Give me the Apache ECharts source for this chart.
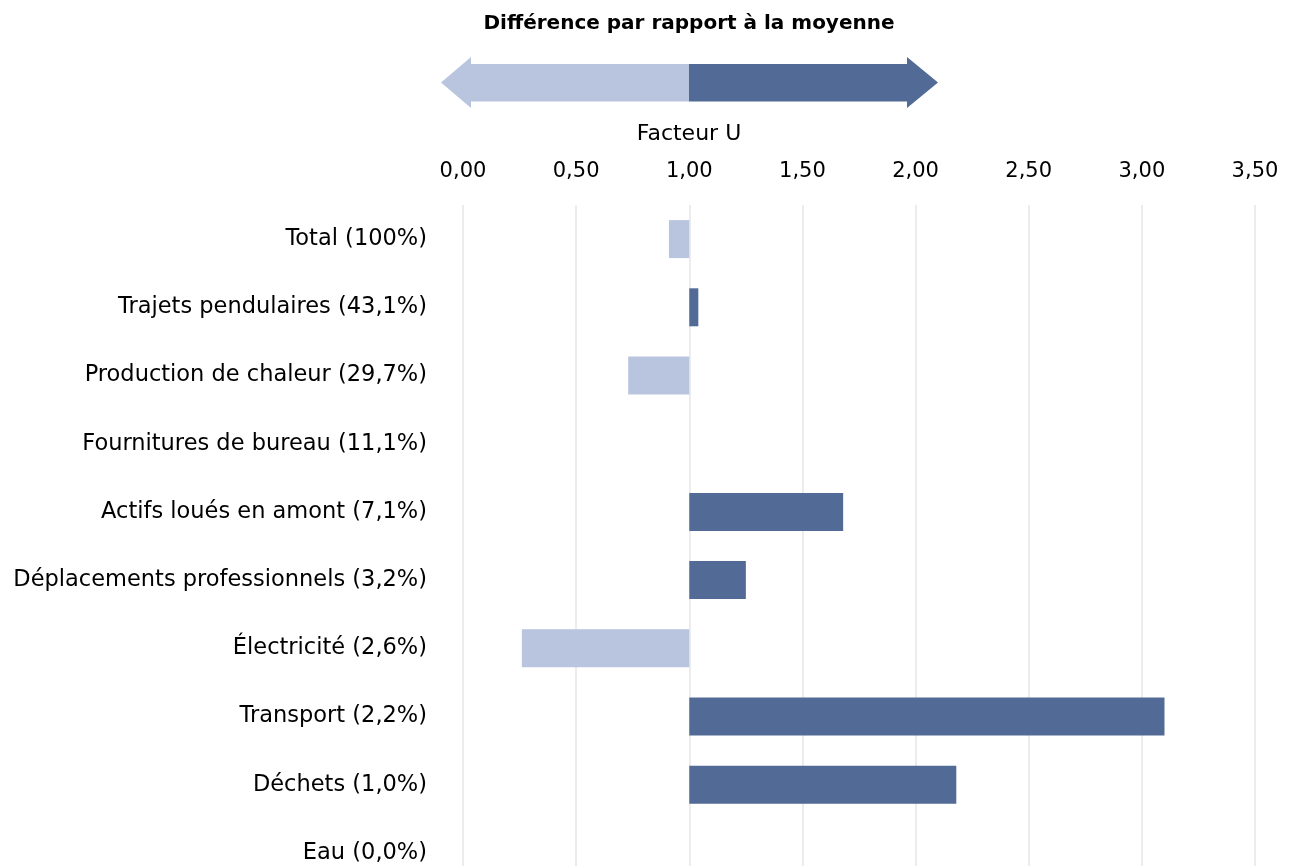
<!DOCTYPE html>
<html><head><meta charset="utf-8">
<script src="https://cdn.jsdelivr.net/npm/echarts@6/dist/echarts.min.js"></script>
<style>html,body{margin:0;padding:0;background:#fff;overflow:hidden}#c{width:1293px;height:887px}</style>
</head><body><div id="c"></div>
<script>
const categories = ["Total (100%)","Trajets pendulaires (43,1%)","Production de chaleur (29,7%)","Fournitures de bureau (11,1%)","Actifs loués en amont (7,1%)","Déplacements professionnels (3,2%)","Électricité (2,6%)","Transport (2,2%)","Déchets (1,0%)","Eau (0,0%)"];
const uFactor = [0.91, 1.04, 0.73, 1.00, 1.68, 1.25, 0.26, 3.10, 2.18, null];
const baseline = 1.0;
const xTicks = {min: 0, max: 3.5, interval: 0.5};
const title = "Différence par rapport à la moyenne";
const axisName = "Facteur U";

const LIGHT = '#b9c5de', DARK = '#516a96';
const FONT = 'DejaVu Sans';

const baseData = uFactor.map(v => v == null ? null : Math.min(v, baseline));
const diffData = uFactor.map(v => v == null ? null : {value: Math.abs(v - baseline), itemStyle: {color: v < baseline ? LIGHT : DARK}});

const chart = echarts.init(document.getElementById('c'), null, {renderer: 'canvas'});
chart.setOption({
  animation: false,
  textStyle: {fontFamily: FONT},
  grid: {left: 463, right: 38, top: 205, bottom: 0, containLabel: false},
  xAxis: {
    type: 'value', position: 'top', min: xTicks.min, max: xTicks.max, interval: xTicks.interval,
    axisLine: {show: false}, axisTick: {show: false},
    axisLabel: {fontSize: 21, color: '#000', margin: 23, fontFamily: FONT,
      formatter: v => v.toFixed(2).replace('.', ',')},
    splitLine: {show: true, lineStyle: {color: '#e6e6e6', width: 1.5}}
  },
  yAxis: {
    type: 'category', data: categories, inverse: true,
    axisLine: {show: false}, axisTick: {show: false},
    axisLabel: {fontSize: 22.5, color: '#000', margin: 36, fontFamily: FONT},
    splitLine: {show: false}
  },
  series: [
    {type: 'bar', stack: 'u', data: baseData, barWidth: 38, itemStyle: {color: 'rgba(0,0,0,0)'}, silent: true},
    {type: 'bar', stack: 'u', data: diffData, barWidth: 38}
  ],
  graphic: [
    {type: 'text', x: 689, y: 14, style: {text: title, fontSize: 20, fontWeight: 'bold', fill: '#000', fontFamily: FONT, align: 'center', verticalAlign: 'top'}},
    {type: 'text', x: 689, y: 123, style: {text: axisName, fontSize: 22, fill: '#000', fontFamily: FONT, align: 'center', verticalAlign: 'top'}},
    {type: 'polygon', shape: {points: [[441, 82.5], [471, 57], [471, 64], [689, 64], [689, 101.5], [471, 101.5], [471, 108]]}, style: {fill: LIGHT}},
    {type: 'polygon', shape: {points: [[689, 64], [907, 64], [907, 57], [938, 82.5], [907, 108], [907, 101.5], [689, 101.5]]}, style: {fill: DARK}}
  ]
});
</script></body></html>
